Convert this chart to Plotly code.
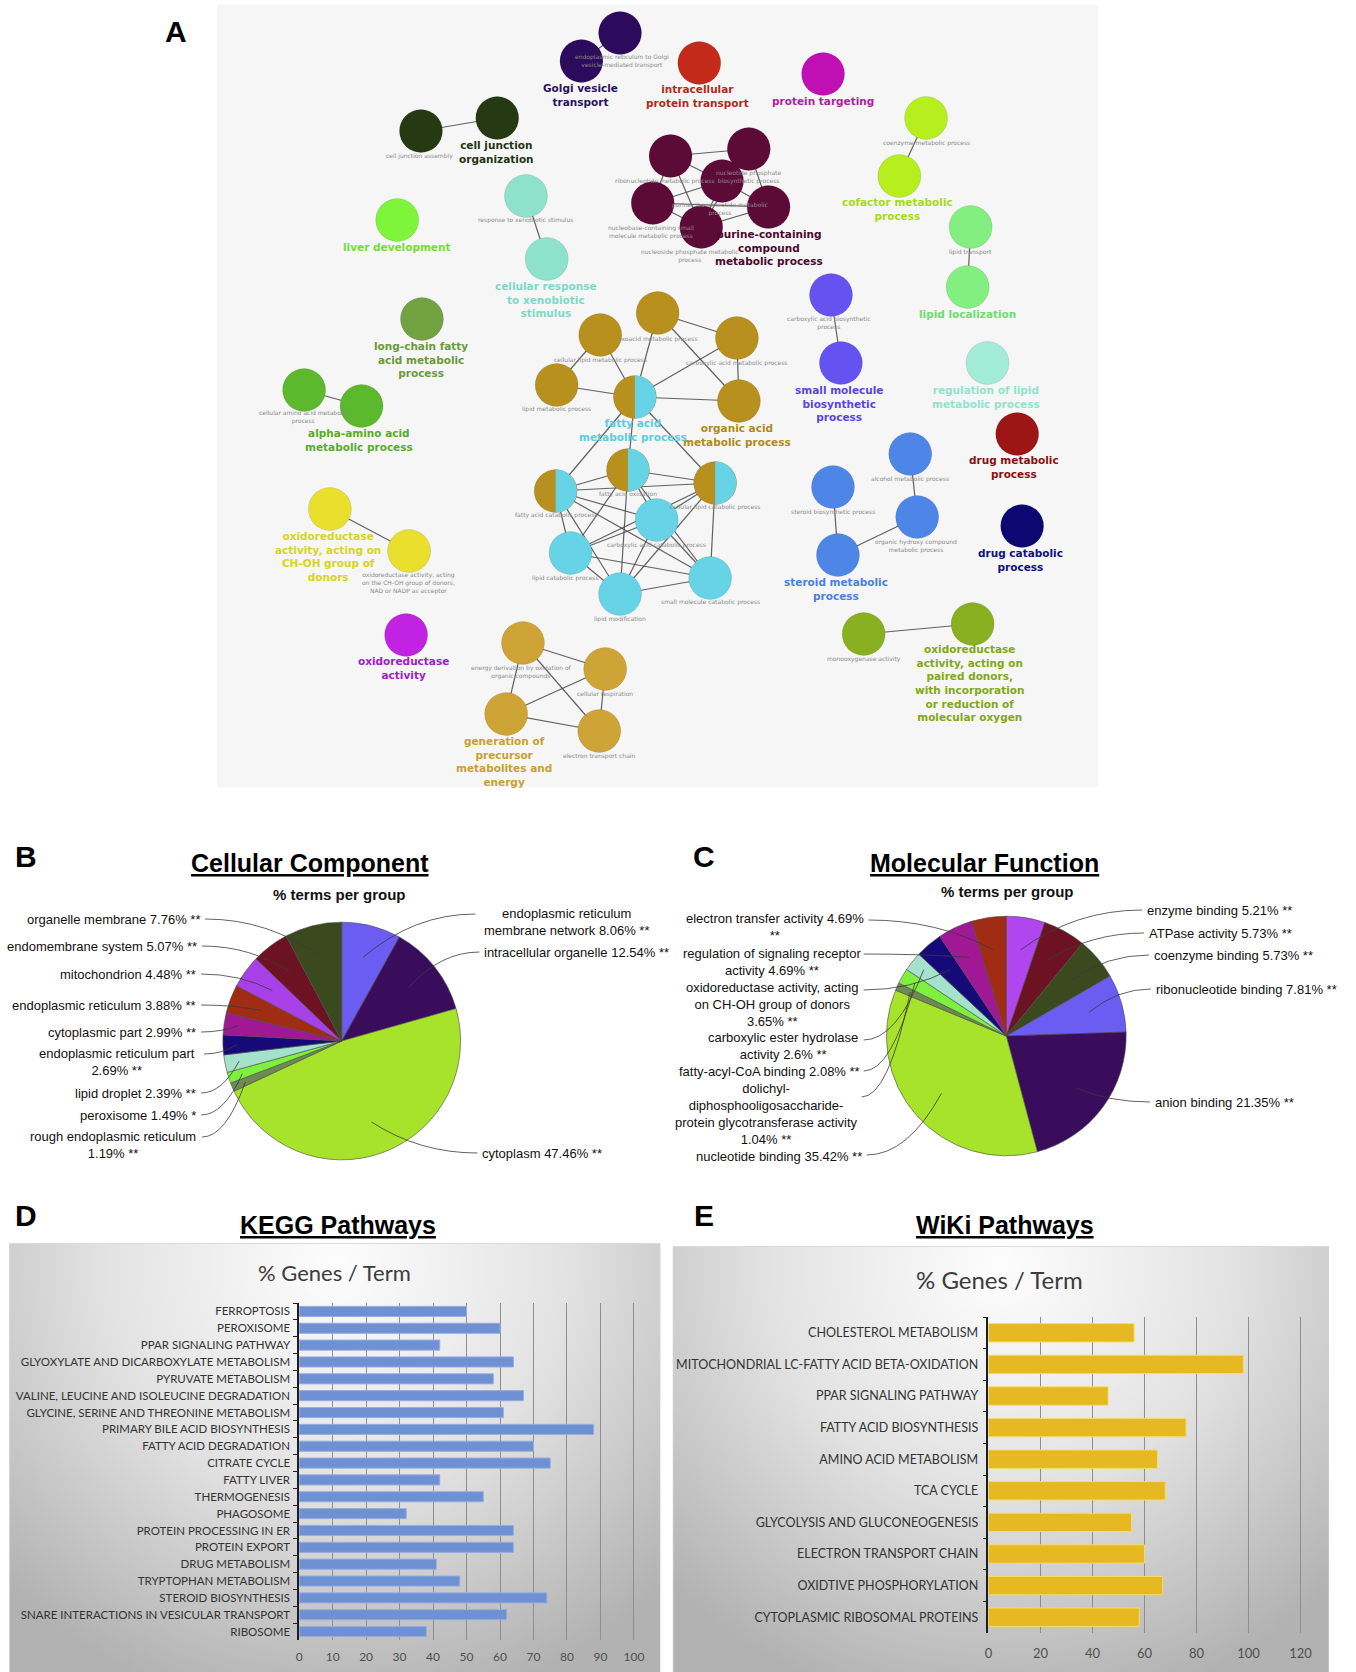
import numpy as np
import plotly.graph_objects as go

W, H = 1356, 1672

# ---------------- Panel A : functional network ----------------
node_names = [
    "endoplasmic reticulum to Golgi vesicle-mediated transport", "Golgi vesicle transport",
    "cell junction assembly", "cell junction organization",
    "intracellular protein transport", "protein targeting",
    "coenzyme metabolic process", "cofactor metabolic process",
    "liver development",
    "response to xenobiotic stimulus", "cellular response to xenobiotic stimulus",
    "ribonucleotide metabolic process", "nucleotide phosphate biosynthetic process",
    "purine ribonucleotide metabolic process", "nucleobase-containing small molecule metabolic process",
    "purine-containing compound metabolic process", "nucleoside phosphate metabolic process",
    "lipid transport", "lipid localization",
    "carboxylic acid biosynthetic process", "small molecule biosynthetic process",
    "regulation of lipid metabolic process", "long-chain fatty acid metabolic process",
    "cellular amino acid metabolic process", "alpha-amino acid metabolic process",
    "oxoacid metabolic process", "cellular lipid metabolic process", "carboxylic acid metabolic process",
    "lipid metabolic process", "organic acid metabolic process",
    "fatty acid metabolic process", "fatty acid oxidation", "fatty acid catabolic process",
    "cellular lipid catabolic process",
    "carboxylic acid catabolic process", "lipid catabolic process", "small molecule catabolic process",
    "lipid modification",
    "alcohol metabolic process", "steroid biosynthetic process",
    "organic hydroxy compound metabolic process", "steroid metabolic process",
    "drug metabolic process", "drug catabolic process",
    "oxidoreductase activity, acting on CH-OH group of donors",
    "oxidoreductase activity, acting on the CH-OH group of donors, NAD or NADP as acceptor",
    "oxidoreductase activity",
    "energy derivation by oxidation of organic compounds", "cellular respiration",
    "generation of precursor metabolites and energy", "electron transport chain",
    "monooxygenase activity",
    "oxidoreductase activity, acting on paired donors, with incorporation or reduction of molecular oxygen",
]
node_group = (["golgi"] * 2 + ["junction"] * 2 + ["iptransport", "targeting"] + ["cofactor"] * 2 +
              ["liver"] + ["xeno"] * 2 + ["purine"] * 6 + ["lipidloc"] * 2 + ["smbio"] * 2 +
              ["reglipid", "longchain"] + ["alpha"] * 2 + ["organic"] * 5 + ["organic+fatty"] * 4 +
              ["fatty"] * 4 + ["steroid"] * 4 + ["drugmet", "drugcat"] + ["chOH"] * 2 + ["oxred"] +
              ["gen"] * 4 + ["mono"] * 2)
node_x = [622, 583, 421, 498, 702, 827, 931, 904, 397, 527, 548,
          673, 752, 725, 655, 772, 704, 976, 973, 835, 845, 993, 422, 303, 361,
          660, 602, 740, 558, 742, 637, 630, 557, 718, 659, 572, 713, 622,
          915, 837, 922, 842, 1023, 1028, 329, 409, 406, 524, 607, 507, 601, 868, 978]
node_y = [33, 61, 131, 118, 63, 74, 118, 176, 220, 196, 259,
          156, 149, 181, 203, 207, 227, 227, 287, 295, 363, 363, 319, 390, 406,
          313, 335, 338, 385, 401, 397, 470, 491, 483, 520, 553, 578, 594,
          454, 487, 517, 555, 434, 526, 509, 551, 635, 643, 669, 714, 731, 634, 624]
edges = [(0, 1), (2, 3), (6, 7), (9, 10), (17, 18), (19, 20), (23, 24), (44, 45), (51, 52),
         (11, 12), (11, 13), (11, 16), (11, 14), (12, 13), (12, 15), (13, 14), (13, 15), (13, 16),
         (14, 15), (14, 16), (15, 16), (12, 16),
         (26, 28), (26, 30), (25, 30), (25, 27), (25, 29), (27, 29), (27, 30), (28, 30), (30, 29),
         (30, 32), (30, 33), (30, 31),
         (31, 32), (31, 33), (32, 33), (32, 34), (32, 35), (32, 36), (32, 37), (31, 35), (31, 36),
         (31, 37), (31, 34), (33, 34), (33, 35), (33, 36), (33, 37), (34, 35), (34, 37), (35, 36),
         (35, 37), (36, 37), (34, 36),
         (38, 40), (39, 41), (41, 40),
         (47, 48), (47, 49), (47, 50), (48, 49), (48, 50), (49, 50)]

group_color = {
    "golgi": "#2c0b5c", "junction": "#253a12", "iptransport": "#c42a1a", "targeting": "#c010b4",
    "cofactor": "#b6ee1e", "liver": "#7ef43a", "xeno": "#8ee2cc", "purine": "#5c0a36",
    "lipidloc": "#82ef80", "smbio": "#6652f0", "reglipid": "#a2ecd8", "longchain": "#72a242",
    "alpha": "#5cb82c", "organic": "#b8901e", "fatty": "#66d4e6", "steroid": "#4e86e8",
    "drugmet": "#9c1616", "drugcat": "#0c0872", "chOH": "#e8e02c", "oxred": "#c222e2",
    "gen": "#cfa436", "mono": "#88b020", "organic+fatty": "#b8901e",
}

main_label_text = [
    "Golgi vesicle<br>transport", "cell junction<br>organization", "intracellular<br>protein transport",
    "protein targeting", "cofactor metabolic<br>process", "liver development",
    "cellular response<br>to xenobiotic<br>stimulus", "purine-containing<br>compound<br>metabolic process",
    "lipid localization", "small molecule<br>biosynthetic<br>process",
    "regulation of lipid<br>metabolic process", "long-chain fatty<br>acid metabolic<br>process",
    "alpha-amino acid<br>metabolic process", "organic acid<br>metabolic process",
    "fatty acid<br>metabolic process", "steroid metabolic<br>process", "drug metabolic<br>process",
    "drug catabolic<br>process", "oxidoreductase<br>activity, acting on<br>CH-OH group of<br>donors",
    "oxidoreductase<br>activity", "generation of<br>precursor<br>metabolites and<br>energy",
    "oxidoreductase<br>activity, acting on<br>paired donors,<br>with incorporation<br>or reduction of<br>molecular oxygen",
]
main_label_x = [582, 497, 700, 827, 902, 397, 547, 772, 973, 843, 991, 421, 358, 740, 635, 840, 1020, 1026,
                327, 403, 505, 975]
main_label_y = [95, 152, 96, 101, 209, 247, 299, 247, 314, 403, 397, 359, 440, 435, 430, 589, 467, 560,
                556, 668, 761, 683]
main_label_color = ["#2a1262", "#1f3510", "#b32a1a", "#b21aa8", "#a4dc12", "#70e030", "#7ed8c6", "#4c0830",
                    "#6edc6e", "#5846e0", "#92e2cc", "#6a9a3a", "#58ac2c", "#b08a18", "#5ccce0", "#4a80e0",
                    "#8a1010", "#10107a", "#d8d420", "#a020c8", "#c8a030", "#80a818"]

small_label_text = [
    "endoplasmic reticulum to Golgi<br>vesicle-mediated transport", "cell junction assembly",
    "coenzyme metabolic process", "response to xenobiotic stimulus",
    "ribonucleotide metabolic process", "nucleotide phosphate<br>biosynthetic process",
    "purine ribonucleotide metabolic<br>process", "nucleobase-containing small<br>molecule metabolic process",
    "nucleoside phosphate metabolic<br>process", "lipid transport",
    "carboxylic acid biosynthetic<br>process", "cellular amino acid metabolic<br>process",
    "oxoacid metabolic process", "cellular lipid metabolic process", "carboxylic acid metabolic process",
    "lipid metabolic process", "fatty acid oxidation", "fatty acid catabolic process",
    "cellular lipid catabolic process", "carboxylic acid catabolic process", "lipid catabolic process",
    "small molecule catabolic process", "lipid modification", "alcohol metabolic process",
    "steroid biosynthetic process", "organic hydroxy compound<br>metabolic process",
    "oxidoreductase activity, acting<br>on the CH-OH group of donors,<br>NAD or NADP as acceptor",
    "energy derivation by oxidation of<br>organic compounds", "cellular respiration",
    "electron transport chain", "monooxygenase activity",
]
small_label_x = [624, 420, 931, 527, 667, 752, 723, 653, 692, 976, 833, 302, 660, 602, 740, 558, 630, 557,
                 718, 659, 567, 713, 622, 915, 837, 921, 408, 523, 607, 601, 868]
small_label_y = [61, 156, 143, 220, 181, 177, 209, 232, 256, 252, 323, 417, 339, 360, 363, 409, 494, 515,
                 507, 545, 578, 602, 619, 479, 512, 546, 583, 672, 694, 756, 659]

# ---------------- Panel B : Cellular Component ----------------
cc_labels = ["endoplasmic reticulum<br>membrane network 8.06% **", "intracellular organelle 12.54% **",
             "cytoplasm 47.46% **", "rough endoplasmic reticulum<br>1.19% **", "peroxisome 1.49% *",
             "lipid droplet 2.39% **", "endoplasmic reticulum part<br>2.69% **", "cytoplasmic part 2.99% **",
             "endoplasmic reticulum 3.88% **", "mitochondrion 4.48% **", "endomembrane system 5.07% **",
             "organelle membrane 7.76% **"]
cc_values = [8.06, 12.54, 47.46, 1.19, 1.49, 2.39, 2.69, 2.99, 3.88, 4.48, 5.07, 7.76]
cc_colors = ["#6b5cf2", "#3a0d5c", "#a6e32a", "#6e8a52", "#7ef03e", "#a4e2cc", "#160a78", "#a01894",
             "#a02c14", "#a840e8", "#6c1222", "#3a4a1e"]

# ---------------- Panel C : Molecular Function ----------------
mf_labels = ["enzyme binding 5.21% **", "ATPase activity 5.73% **", "coenzyme binding 5.73% **",
             "ribonucleotide binding 7.81% **", "anion binding 21.35% **", "nucleotide binding 35.42% **",
             "dolichyl-<br>diphosphooligosaccharide-<br>protein glycotransferase activity<br>1.04% **",
             "fatty-acyl-CoA binding 2.08% **", "carboxylic ester hydrolase<br>activity 2.6% **",
             "oxidoreductase activity, acting<br>on CH-OH group of donors<br>3.65% **",
             "regulation of signaling receptor<br>activity 4.69% **", "electron transfer activity 4.69%<br>**"]
mf_values = [5.21, 5.73, 5.73, 7.81, 21.35, 35.42, 1.04, 2.08, 2.6, 3.65, 4.69, 4.69]
mf_colors = ["#b046f0", "#6c1222", "#3a4a1e", "#6b5cf2", "#3a0d5c", "#a6e32a", "#6e8a52", "#7ef03e",
             "#a4e2cc", "#160a78", "#a01894", "#a02c14"]

# ---------------- Panel D : KEGG ----------------
kegg_terms = ["FERROPTOSIS", "PEROXISOME", "PPAR SIGNALING PATHWAY", "GLYOXYLATE AND DICARBOXYLATE METABOLISM",
              "PYRUVATE METABOLISM", "VALINE, LEUCINE AND ISOLEUCINE DEGRADATION",
              "GLYCINE, SERINE AND THREONINE METABOLISM", "PRIMARY BILE ACID BIOSYNTHESIS",
              "FATTY ACID DEGRADATION", "CITRATE CYCLE", "FATTY LIVER", "THERMOGENESIS", "PHAGOSOME",
              "PROTEIN PROCESSING IN ER", "PROTEIN EXPORT", "DRUG METABOLISM", "TRYPTOPHAN METABOLISM",
              "STEROID BIOSYNTHESIS", "SNARE INTERACTIONS IN VESICULAR TRANSPORT", "RIBOSOME"]
kegg_values = [50, 60, 42, 64, 58, 67, 61, 88, 70, 75, 42, 55, 32, 64, 64, 41, 48, 74, 62, 38]

# ---------------- Panel E : WikiPathways ----------------
wiki_terms = ["CHOLESTEROL METABOLISM", "MITOCHONDRIAL LC-FATTY ACID BETA-OXIDATION", "PPAR SIGNALING PATHWAY",
              "FATTY ACID BIOSYNTHESIS", "AMINO ACID METABOLISM", "TCA CYCLE",
              "GLYCOLYSIS AND GLUCONEOGENESIS", "ELECTRON TRANSPORT CHAIN", "OXIDTIVE PHOSPHORYLATION",
              "CYTOPLASMIC RIBOSOMAL PROTEINS"]
wiki_values = [56, 98, 46, 76, 65, 68, 55, 60, 67, 58]

# ================= styling / layout =================
NET_FONT = "DejaVu Sans, Verdana, sans-serif"
NARROW = "Liberation Sans Narrow, Arial Narrow, Liberation Sans, Arial, sans-serif"
ARIAL = "Liberation Sans, Arial, sans-serif"
CAL = "Lato, Carlito, Calibri, sans-serif"

fig = go.Figure()
shapes = []
annotations = []


def gradient_bg(x0, y0, x1, y1):
    # decorative radial grey gradient of the spreadsheet chart area
    n = 60
    xe = np.linspace(x0, x1, n + 1)
    ye = np.linspace(y0, y1, n + 1)
    u = (np.arange(n) + 0.5) / n
    uu, vv = np.meshgrid(u, u)
    d = np.sqrt(((uu - 0.5) / 0.72) ** 2 + ((vv - 0.05) / 1.05) ** 2)
    z = np.clip(d, 0, 1)
    fig.add_trace(go.Heatmap(x=xe, y=ye, z=z, zmin=0, zmax=1, zsmooth="best", showscale=False,
                             colorscale=[[0, "#fdfdfd"], [0.5, "#e2e2e2"], [1, "#b2b2b2"]],
                             hoverinfo="skip", xaxis="x", yaxis="y"))
    shapes.append(dict(type="rect", xref="x", yref="y", x0=x0, y0=y0, x1=x1, y1=y1,
                       line=dict(color="#cfcfcf", width=1.5), layer="below"))


gradient_bg(6, 1244, 662, 1672)
gradient_bg(676, 1247, 1337, 1672)

# panel A background
shapes.append(dict(type="rect", xref="x", yref="y", x0=215, y0=5, x1=1105, y1=787,
                   fillcolor="#f6f6f6", line=dict(width=0), layer="below"))

# edges
ex, ey = [], []
for a, b in edges:
    ex += [node_x[a], node_x[b], None]
    ey += [node_y[a], node_y[b], None]
fig.add_trace(go.Scatter(x=ex, y=ey, mode="lines", line=dict(color="rgba(70,70,70,0.85)", width=1.2),
                         hoverinfo="skip", showlegend=False))
# nodes
NODE_SIZE = 43
fig.add_trace(go.Scatter(x=node_x, y=node_y, mode="markers", text=node_names, hoverinfo="text",
                         marker=dict(size=NODE_SIZE, color=[group_color[g] for g in node_group],
                                     line=dict(color="rgba(0,0,0,0.12)", width=0.8)),
                         showlegend=False))
# right halves of the two-colored nodes
r = NODE_SIZE / 2
hx, hy = [], []
ang = np.linspace(-np.pi / 2, np.pi / 2, 40)
for i, g in enumerate(node_group):
    if g == "organic+fatty":
        hx += list(node_x[i] + r * np.cos(ang)) + [node_x[i], None]
        hy += list(node_y[i] + r * np.sin(ang)) + [node_y[i] - r, None]
fig.add_trace(go.Scatter(x=hx, y=hy, mode="lines", fill="toself", fillcolor=group_color["fatty"],
                         line=dict(width=0, color=group_color["fatty"]), hoverinfo="skip", showlegend=False))

for t, x, y, c in zip(main_label_text, main_label_x, main_label_y, main_label_color):
    annotations.append(dict(x=x, y=y, xref="x", yref="y", text="<b>" + t + "</b>", showarrow=False,
                            font=dict(family=NET_FONT, size=10.5, color=c), align="center"))
for t, x, y in zip(small_label_text, small_label_x, small_label_y):
    annotations.append(dict(x=x, y=y, xref="x", yref="y", text=t, showarrow=False,
                            font=dict(family=NET_FONT, size=6, color="#8a8a8a"), align="center"))


# ---------------- pies ----------------
def add_pie(labels, values, colors, cx, cy, R, lab_pos):
    fig.add_trace(go.Pie(labels=labels, values=values, sort=False, direction="clockwise", rotation=0,
                         textinfo="none", hoverinfo="label",
                         marker=dict(colors=colors, line=dict(color="#4a4a4a", width=0.6)),
                         domain=dict(x=[(cx - R) / W, (cx + R) / W], y=[(H - cy - R) / H, (H - cy + R) / H]),
                         showlegend=False))
    total = float(sum(values))
    cum = 0.0
    for lab, v, (tx, ty, anchor, sx, sy) in zip(labels, values, lab_pos):
        th = 2 * np.pi * (cum + v / 2) / total
        cum += v
        frac = 0.72 if v > 3 else 0.88
        px = cx + frac * R * np.sin(th)
        py = cy - frac * R * np.cos(th)
        qx = sx + 0.55 * (px - sx)
        shapes.append(dict(type="path", xref="x", yref="y", layer="above",
                           path=f"M {sx:.1f},{sy:.1f} Q {qx:.1f},{sy:.1f} {px:.1f},{py:.1f}",
                           line=dict(color="#3a3a3a", width=0.8)))
        annotations.append(dict(x=tx, y=ty, xref="x", yref="y", text=lab, showarrow=False,
                                xanchor=anchor, yanchor="middle", align="center",
                                font=dict(family=NARROW, size=13, color="#111111")))


cc_pos = [(568, 922, "center", 476, 914), (483, 952, "left", 480, 952), (481, 1153, "left", 478, 1153),
          (110, 1145, "center", 200, 1137), (196, 1115, "right", 199, 1115), (196, 1093, "right", 199, 1093),
          (114, 1062, "center", 202, 1054), (196, 1032, "right", 199, 1032), (196, 1005, "right", 199, 1005),
          (196, 974, "right", 199, 974), (197, 946, "right", 200, 946), (200, 919, "right", 203, 919)]
mf_pos = [(1152, 910, "left", 1149, 910), (1154, 933, "left", 1151, 933), (1159, 955, "left", 1156, 955),
          (1161, 989, "left", 1158, 989), (1160, 1102, "left", 1157, 1102), (868, 1156, "right", 871, 1155),
          (770, 1114, "center", 866, 1097), (773, 1071, "center", 868, 1071), (787, 1046, "center", 868, 1040),
          (775, 1004, "center", 868, 990), (775, 962, "center", 868, 954), (778, 927, "center", 873, 920)]

add_pie(cc_labels, cc_values, cc_colors, 341, 1041, 120, cc_pos)
add_pie(mf_labels, mf_values, mf_colors, 1012, 1036, 121, mf_pos)

# ---------------- bars ----------------
fig.add_trace(go.Bar(y=kegg_terms, x=kegg_values, orientation="h", width=0.6,
                     marker=dict(color="#6f90d2", line=dict(color="#95afe2", width=1)),
                     xaxis="x2", yaxis="y2", showlegend=False, hoverinfo="x+y"))
fig.add_trace(go.Bar(y=wiki_terms, x=wiki_values, orientation="h", width=0.58,
                     marker=dict(color="#e6b822", line=dict(color="#f4dc6a", width=1)),
                     xaxis="x3", yaxis="y3", showlegend=False, hoverinfo="x+y"))

# ---------------- text: panel letters, titles ----------------
for t, x, y in [("A", 174, 31), ("B", 22, 856), ("C", 707, 856), ("D", 22, 1215), ("E", 707, 1215)]:
    annotations.append(dict(x=x, y=y, xref="x", yref="y", text="<b>" + t + "</b>", showarrow=False,
                            font=dict(family=ARIAL, size=30, color="#000")))
for t, x, y in [("Cellular Component", 309, 863), ("Molecular Function", 990, 863),
                ("KEGG Pathways", 337, 1225), ("WiKi Pathways", 1011, 1225)]:
    annotations.append(dict(x=x, y=y, xref="x", yref="y", text="<b><u>" + t + "</u></b>", showarrow=False,
                            font=dict(family=NARROW, size=25, color="#000")))
for x, y in [(339, 894), (1013, 891)]:
    annotations.append(dict(x=x, y=y, xref="x", yref="y", text="<b>% terms per group</b>", showarrow=False,
                            font=dict(family=NARROW, size=15, color="#111")))
annotations.append(dict(x=334, y=1272, xref="x", yref="y", text="% Genes / Term", showarrow=False,
                        font=dict(family=CAL, size=22, color="#3c3c3c")))
annotations.append(dict(x=1005, y=1279, xref="x", yref="y", text="% Genes / Term", showarrow=False,
                        font=dict(family=CAL, size=24, color="#3c3c3c")))

# axes geometry (pixel positions converted to paper fractions)
d_x0, d_px_per = 298, 3.38
d_y0, d_y1 = 1303, 1640
e_x0, e_px_per = 994, 2.625
e_y0, e_y1 = 1317, 1633

fig.update_layout(
    width=W, height=H, margin=dict(l=0, r=0, t=0, b=0),
    paper_bgcolor="white", plot_bgcolor="rgba(0,0,0,0)", showlegend=False,
    xaxis=dict(domain=[0, 1], range=[0, W], visible=False, fixedrange=True),
    yaxis=dict(domain=[0, 1], range=[H, 0], visible=False, fixedrange=True),
    xaxis2=dict(domain=[d_x0 / W, (d_x0 + 101 * d_px_per) / W], range=[0, 101], anchor="y2",
                showgrid=True, gridcolor="#8e8e8e", gridwidth=1, dtick=10, tick0=0, zeroline=False,
                showline=False, ticks="", ticklabelstandoff=8,
                tickfont=dict(family=CAL, size=12, color="#505050")),
    yaxis2=dict(domain=[(H - d_y1) / H, (H - d_y0) / H], anchor="x2", type="category",
                categoryorder="array", categoryarray=kegg_terms, range=[len(kegg_terms) - 0.5, -0.5],
                showline=True, linecolor="#1e1e1e", linewidth=1.5, ticks="outside", tickson="boundaries",
                ticklen=4, tickcolor="#1e1e1e", showgrid=False, ticklabelstandoff=5,
                tickfont=dict(family=CAL, size=11.5, color="#333333")),
    xaxis3=dict(domain=[e_x0 / W, (e_x0 + 121 * e_px_per) / W], range=[0, 121], anchor="y3",
                showgrid=True, gridcolor="#8e8e8e", gridwidth=1, dtick=20, tick0=0, zeroline=False,
                showline=False, ticks="", ticklabelstandoff=11,
                tickfont=dict(family=CAL, size=13, color="#505050")),
    yaxis3=dict(domain=[(H - e_y1) / H, (H - e_y0) / H], anchor="x3", type="category",
                categoryorder="array", categoryarray=wiki_terms, range=[len(wiki_terms) - 0.5, -0.5],
                showline=True, linecolor="#1e1e1e", linewidth=1.5, ticks="outside", tickson="boundaries",
                ticklen=4, tickcolor="#1e1e1e", showgrid=False, ticklabelstandoff=6,
                tickfont=dict(family=CAL, size=12.5, color="#333333")),
    shapes=shapes, annotations=annotations, bargap=0.4,
)

# place the figure at the page origin with no scrollbars
fig.write_html(
    "out.html",
    config={"displayModeBar": False, "responsive": False},
    post_script="document.body.style.margin='0';document.body.style.overflow='hidden';"
                "document.documentElement.style.overflow='hidden';",
)
